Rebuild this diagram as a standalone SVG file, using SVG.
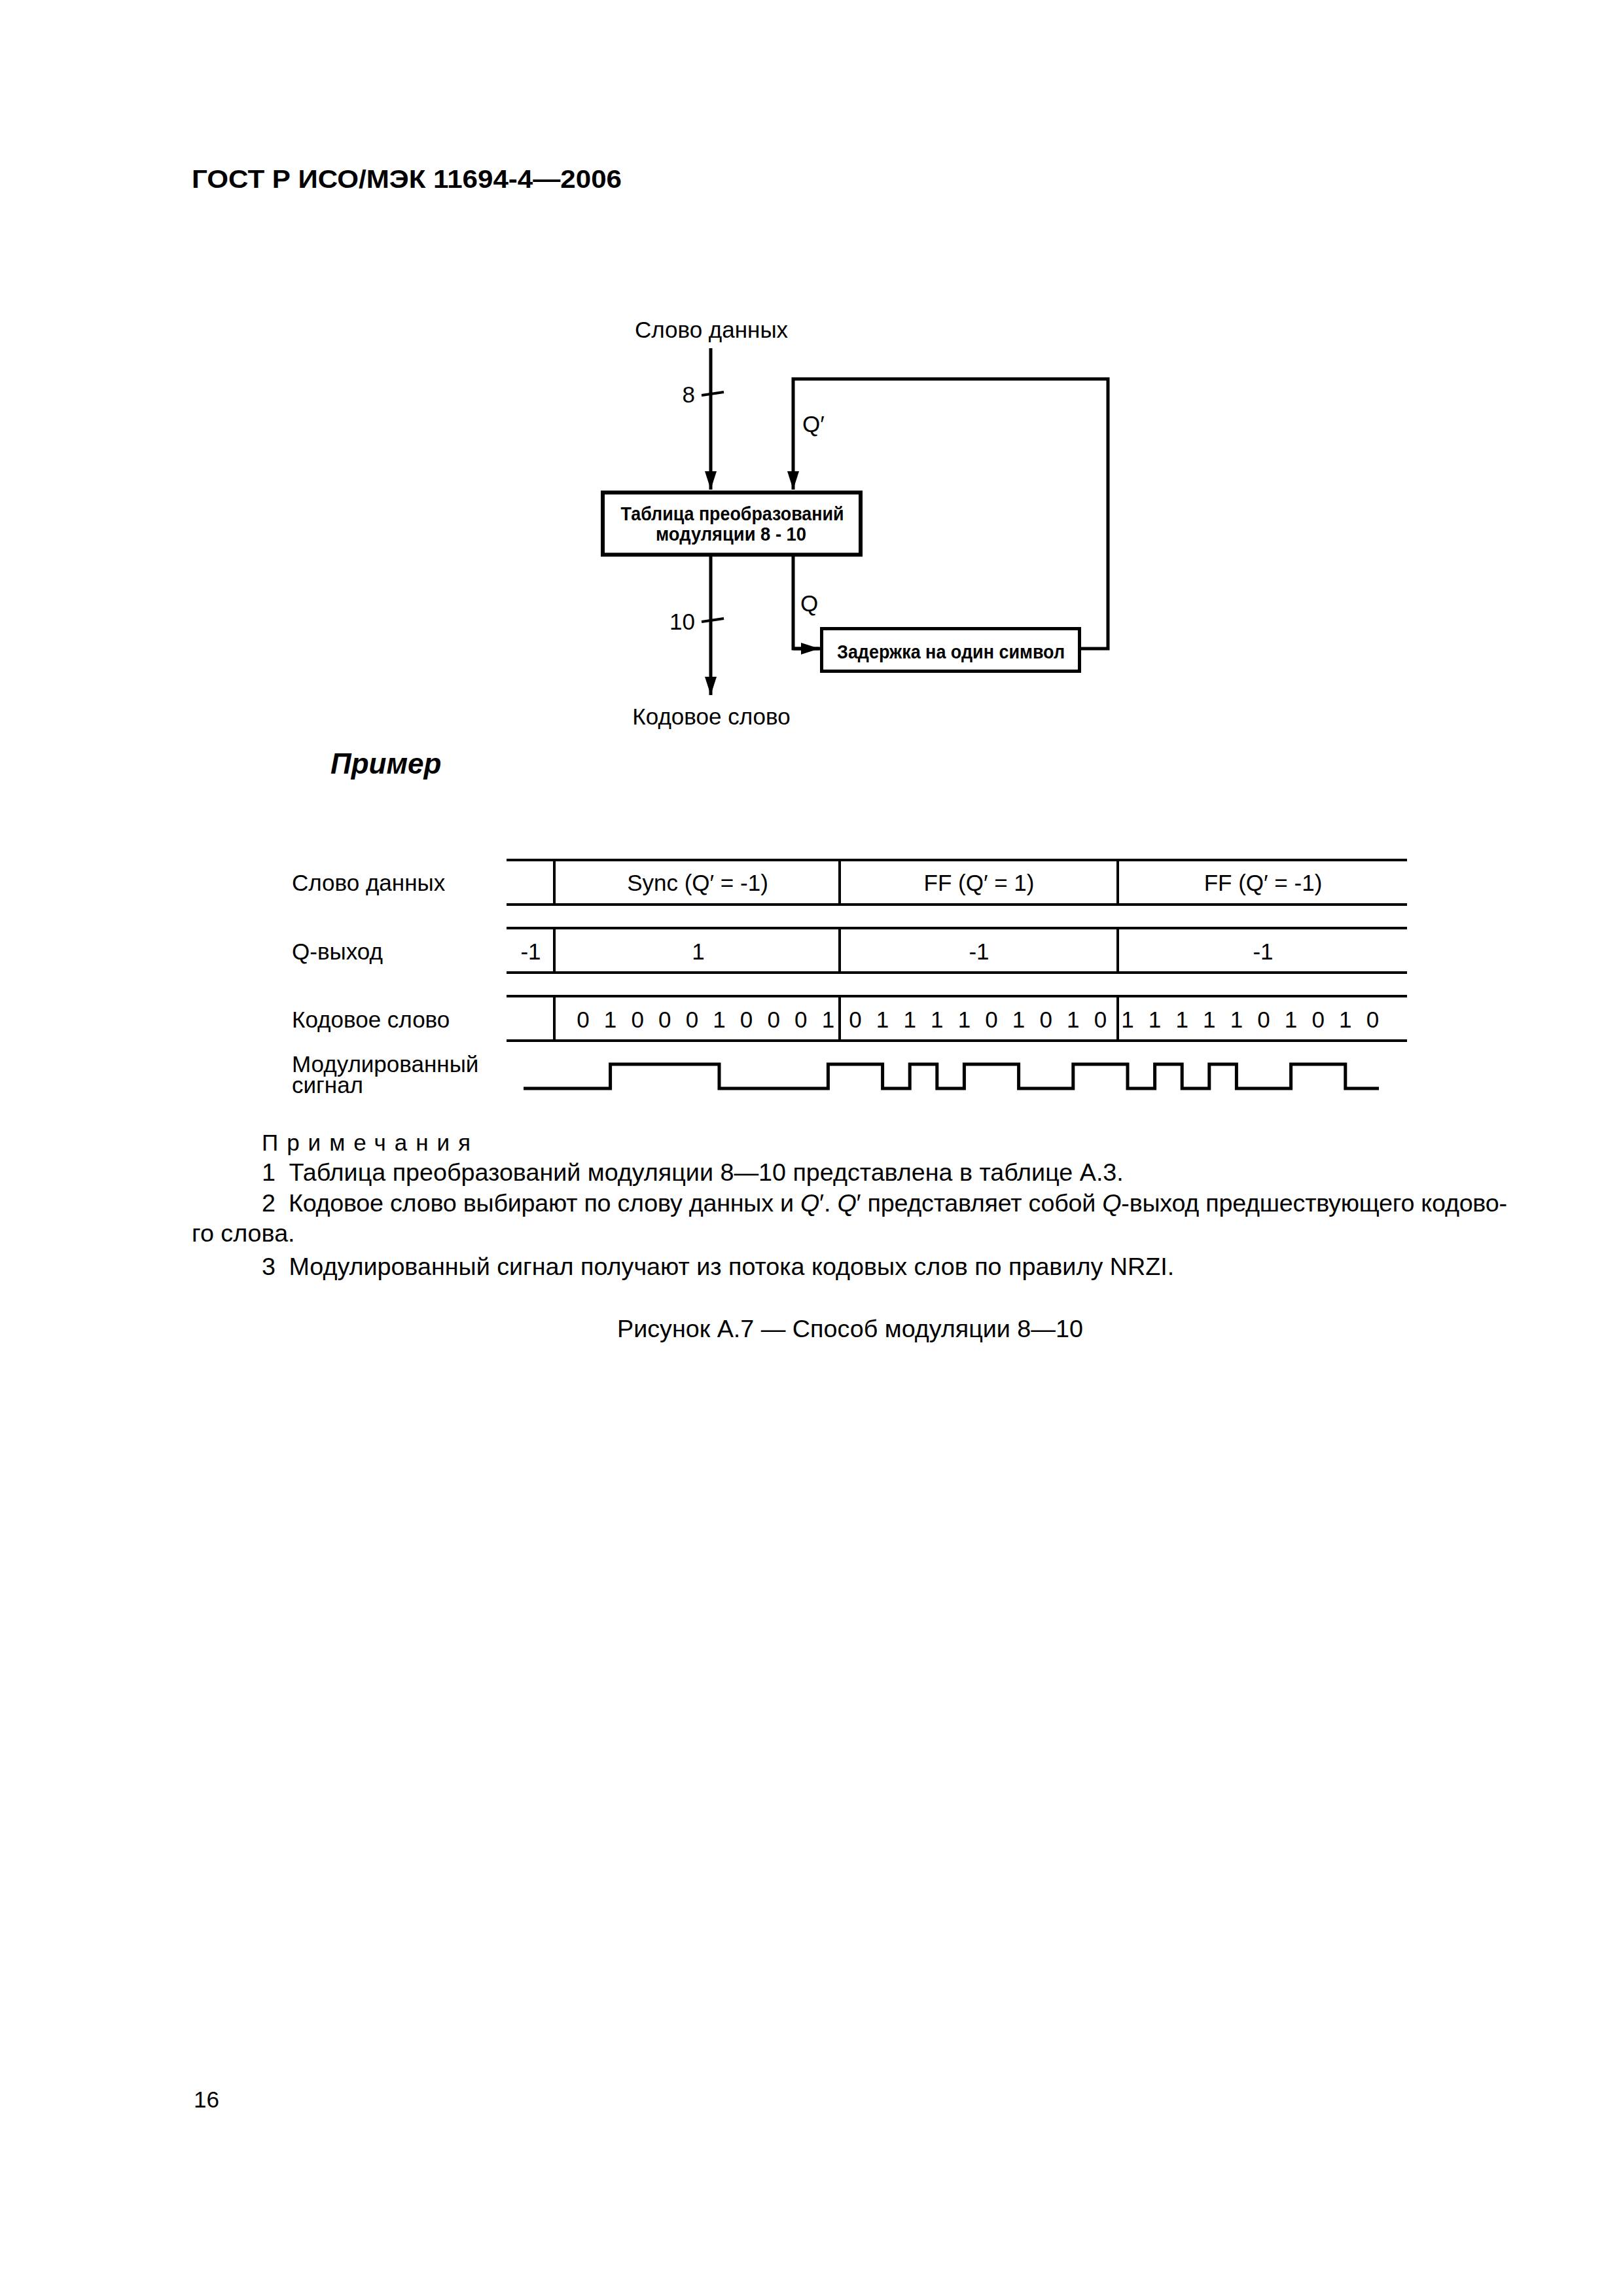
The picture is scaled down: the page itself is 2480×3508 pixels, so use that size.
<svg xmlns="http://www.w3.org/2000/svg" width="2480" height="3508" viewBox="0 0 2480 3508">
<style>
text{font-family:"Liberation Sans",Arial,sans-serif;fill:#000}
.t35{font-size:35px}
.t37{font-size:37.7px}
.bx{font-size:30px;font-weight:bold}
.ln{stroke:#000;stroke-width:5;fill:none}
.box{stroke:#000;stroke-width:6;fill:#fff}
.hl{stroke:#000;stroke-width:4;fill:none}
.vl{stroke:#000;stroke-width:4;fill:none}
.mid{text-anchor:middle}
.end{text-anchor:end}
.it{font-style:italic}
</style>
<defs>
<marker id="arr" markerUnits="userSpaceOnUse" markerWidth="30" markerHeight="20" refX="28" refY="9" orient="auto">
<path d="M0,0 L28,9 L0,18 Z" fill="#000"/>
</marker>
</defs>
<rect x="0" y="0" width="2480" height="3508" fill="#fff"/>

<g id="header">
<text x="293" y="287" style="font-size:39px;font-weight:bold" textLength="657" lengthAdjust="spacingAndGlyphs">ГОСТ Р ИСО/МЭК 11694-4—2006</text>
</g>

<g id="connectors">
<path class="ln" d="M1086,532 V748" marker-end="url(#arr)"/>
<path class="ln" d="M1212,991 H1693 V579 H1212 V748" marker-end="url(#arr)"/>
<path class="ln" d="M1086,850 V1062" marker-end="url(#arr)"/>
<path class="ln" d="M1212,850 V991 H1252" marker-end="url(#arr)"/>
<path class="ln" d="M1072,604 L1106,599" style="stroke-width:4"/>
<path class="ln" d="M1072,950 L1106,945" style="stroke-width:4"/>
<text class="t35 end" x="1062" y="615">8</text>
<text class="t35 end" x="1062" y="962">10</text>
<text class="t35" x="1226" y="660">Q′</text>
<text class="t35" x="1223" y="934">Q</text>
</g>

<g id="node-data-word">
<text class="t35 mid" x="1087" y="516">Слово данных</text>
</g>

<g id="node-table">
<rect class="box" x="921" y="752.5" width="394" height="95"/>
<text class="bx mid" x="1119" y="795" textLength="341" lengthAdjust="spacingAndGlyphs">Таблица преобразований</text>
<text class="bx mid" x="1117" y="826" textLength="230" lengthAdjust="spacingAndGlyphs">модуляции 8 - 10</text>
</g>

<g id="node-delay">
<rect class="box" x="1255.5" y="960.5" width="394" height="65" style="stroke-width:5"/>
<text class="bx mid" x="1453" y="1006" textLength="348" lengthAdjust="spacingAndGlyphs">Задержка на один символ</text>
</g>

<g id="node-code-word">
<text class="t35 mid" x="1087" y="1107">Кодовое слово</text>
</g>

<g id="example-title">
<text x="505" y="1182" style="font-size:44px;font-weight:bold;font-style:italic">Пример</text>
</g>

<g id="timing-table">
<path class="hl" d="M774,1314 H2150 M774,1382 H2150 M774,1418 H2150 M774,1486 H2150 M774,1522 H2150 M774,1590 H2150"/>
<path class="vl" d="M847,1314 V1382 M1283,1314 V1382 M1708,1314 V1382 M847,1418 V1486 M1283,1418 V1486 M1708,1418 V1486 M847,1522 V1590 M1283,1522 V1590 M1708,1522 V1590"/>
<text class="t35" x="446" y="1361">Слово данных</text>
<text class="t35" x="446" y="1466">Q-выход</text>
<text class="t35" x="446" y="1570">Кодовое слово</text>
<text class="t35" x="446" y="1638">Модулированный</text>
<text class="t35" x="446" y="1670">сигнал</text>
<text class="t35 mid" x="1066" y="1361">Sync (Q′ = -1)</text>
<text class="t35 mid" x="1496" y="1361">FF (Q′ = 1)</text>
<text class="t35 mid" x="1930" y="1361">FF (Q′ = -1)</text>
<text class="t35 mid" x="811" y="1466">-1</text>
<text class="t35 mid" x="1067" y="1466">1</text>
<text class="t35 mid" x="1496" y="1466">-1</text>
<text class="t35 mid" x="1930" y="1466">-1</text>
<text class="t35 mid" y="1570" x="891 911.8 932.6 953.4 974.2 995 1015.8 1036.6 1057.4 1078.2 1099 1119.8 1140.6 1161.4 1182.2 1203 1223.8 1244.6 1265.4">0 1 0 0 0 1 0 0 0 1</text>
<text class="t35 mid" y="1570" x="1307 1327.8 1348.6 1369.4 1390.2 1411 1431.8 1452.6 1473.4 1494.2 1515 1535.8 1556.6 1577.4 1598.2 1619 1639.8 1660.6 1681.4">0 1 1 1 1 0 1 0 1 0</text>
<text class="t35 mid" y="1570" x="1723 1743.8 1764.6 1785.4 1806.2 1827 1847.8 1868.6 1889.4 1910.2 1931 1951.8 1972.6 1993.4 2014.2 2035 2055.8 2076.6 2097.4">1 1 1 1 1 0 1 0 1 0</text>
<path class="ln" d="M800,1663 H932.6 V1626 H1099 V1663 H1265.4 V1626 H1348.6 V1663 H1390.2 V1626 H1431.8 V1663 H1473.4 V1626 H1556.6 V1663 H1639.8 V1626 H1723 V1663 H1764.6 V1626 H1806.2 V1663 H1847.8 V1626 H1889.4 V1663 H1972.6 V1626 H2055.8 V1663 H2107"/>
</g>

<g id="notes">
<text class="t35" x="400" y="1758" style="letter-spacing:13px">Примечания</text>
<text class="t37" x="400" y="1804">1<tspan dx="10"> Таблица преобразований модуляции 8—10 представлена в таблице А.3.</tspan></text>
<text class="t37" x="400" y="1851" textLength="1903" lengthAdjust="spacing">2<tspan dx="10"> Кодовое слово выбирают по слову данных и </tspan><tspan class="it">Q</tspan>′. <tspan class="it">Q</tspan>′ представляет собой <tspan class="it">Q</tspan>-выход предшествующего кодово-</text>
<text class="t37" x="293" y="1897">го слова.</text>
<text class="t37" x="400" y="1948">3<tspan dx="10"> Модулированный сигнал получают из потока кодовых слов по правилу NRZI.</tspan></text>
</g>

<g id="caption">
<text class="t37 mid" x="1299" y="2043">Рисунок А.7 — Способ модуляции 8—10</text>
</g>

<g id="page-number">
<text class="t35" x="296" y="3220">16</text>
</g>
</svg>
